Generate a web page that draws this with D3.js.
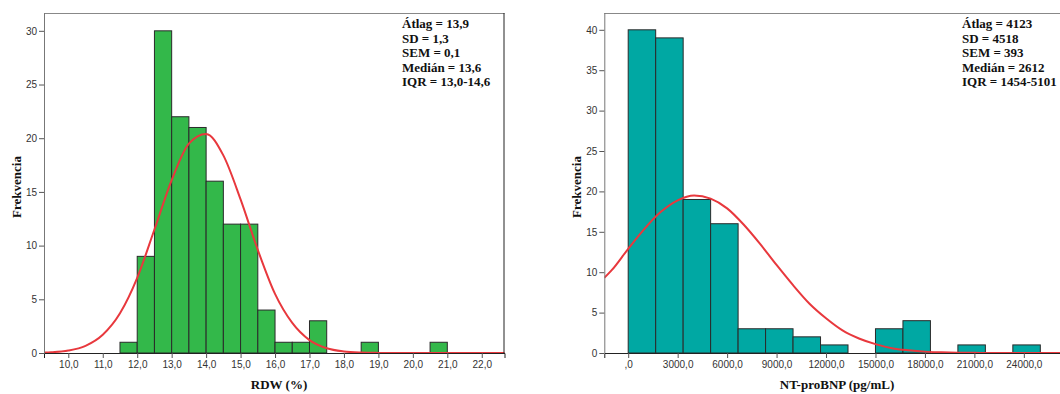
<!DOCTYPE html>
<html>
<head>
<meta charset="utf-8">
<script src="https://cdn.jsdelivr.net/npm/d3@7"></script>
<style>
  body { margin: 0; background: #fff; }
  .tick text { font-family: "Liberation Sans", Arial, sans-serif; font-size: 10px; fill: #333; }
  .tick line { stroke: #555; }
  .lbl { font-family: "Liberation Serif", "Times New Roman", serif; font-weight: bold; font-size: 13px; fill: #111; }
</style>
</head>
<body>
<svg width="1060" height="394"></svg>
<script>
// RDW histogram data
const rdwBinLo = [11.5, 12.0, 12.5, 13.0, 13.5, 14.0, 14.5, 15.0, 15.5, 16.0, 16.5, 17.0, 18.5, 20.5];
const rdwCounts = [1, 9, 30, 22, 21, 16, 12, 12, 4, 1, 1, 3, 1, 1];
const rdwBinWidth = 0.5;
const rdwTicksX = [10, 11, 12, 13, 14, 15, 16, 17, 18, 19, 20, 21, 22];
const rdwTicksY = [0, 5, 10, 15, 20, 25, 30];
// normal curve
const rdwCurveX = [9.3, 9.5, 10, 10.5, 11, 11.5, 12, 12.5, 13, 13.5, 14, 14.5, 15, 15.5, 16, 16.5, 17, 17.5, 18, 18.5, 19, 19.5, 20, 21, 22, 22.7];
const rdwCurveY = [0.04, 0.07, 0.23, 0.67, 1.7, 3.7, 7.0, 11.5, 16.1, 19.5, 20.4, 18.4, 14.3, 9.6, 5.5, 2.8, 1.2, 0.44, 0.14, 0.04, 0.01, 0, 0, 0, 0, 0];
const rdwStats = ["Átlag = 13,9", "SD = 1,3", "SEM = 0,1", "Medián = 13,6", "IQR = 13,0-14,6"];

// NT-proBNP histogram data
const ntBinLo = [0, 1667, 3333, 5000, 6667, 8333, 10000, 11667, 13333, 15000, 16667, 18333, 20000, 21667, 23333];
const ntCounts = [40, 39, 19, 16, 3, 3, 2, 1, 0, 3, 4, 0, 1, 0, 1];
const ntBinWidth = 1667;
const ntTicksX = [0, 3000, 6000, 9000, 12000, 15000, 18000, 21000, 24000];
const ntTicksY = [0, 5, 10, 15, 20, 25, 30, 35, 40];
const ntCurveX = [-1450, -1000, 0, 1000, 2000, 3000, 4000, 5000, 6000, 7000, 8000, 9000, 10000, 11000, 12000, 13000, 14000, 15000, 16000, 17000, 18000, 19000, 20000, 21000, 22000, 24000, 27000];
const ntCurveY = [9.3, 10.25, 12.9, 15.4, 17.5, 18.9, 19.5, 19.1, 17.9, 15.9, 13.5, 10.9, 8.4, 6.1, 4.3, 2.8, 1.8, 1.1, 0.6, 0.34, 0.17, 0.09, 0.04, 0.02, 0, 0, 0];
const ntStats = ["Átlag = 4123", "SD = 4518", "SEM = 393", "Medián = 2612", "IQR = 1454-5101"];

const svg = d3.select('svg');
const fmt = (v) => {
    let s = d3.format('.1f')(v).replace('.', ',');
    return s.startsWith('0,') ? s.slice(1) : s;
};

const drawHist = (opt) => {
    const x = d3.scaleLinear().domain(opt.xDom).range([opt.left, opt.right]);
    const y = d3.scaleLinear().domain(opt.yDom).range([353, 13]);
    const g = svg.append('g');

    g.append('clipPath').attr('id', opt.id + 'clip')
        .append('rect').attr('x', opt.left).attr('y', 13)
        .attr('width', opt.right - opt.left).attr('height', 340);

    // bars
    g.selectAll('rect.bar').data(opt.lo).enter().append('rect')
        .attr('class', 'bar')
        .attr('x', (d) => x(d))
        .attr('width', (d) => x(d + opt.bw) - x(d))
        .attr('y', (d, i) => y(opt.counts[i]))
        .attr('height', (d, i) => y(0) - y(opt.counts[i]))
        .attr('fill', opt.color)
        .attr('stroke', '#2a2a2a')
        .attr('stroke-width', 1)
        .style('display', (d, i) => opt.counts[i] > 0 ? null : 'none');

    // normal curve
    const line = d3.line().x((d) => x(d[0])).y((d) => y(d[1])).curve(d3.curveMonotoneX);
    g.append('path').datum(d3.zip(opt.cx, opt.cy))
        .attr('d', line)
        .attr('fill', 'none')
        .attr('stroke', '#e8383d')
        .attr('stroke-width', 2)
        .attr('clip-path', 'url(#' + opt.id + 'clip)');

    // frame
    g.append('line').attr('x1', opt.left).attr('x2', opt.right).attr('y1', 13.5).attr('y2', 13.5).attr('stroke', '#888');
    g.append('line').attr('x1', opt.left + 0.5).attr('x2', opt.left + 0.5).attr('y1', 13).attr('y2', 353).attr('stroke', '#777');
    if (opt.right < 1060) {
        g.append('line').attr('x1', opt.right - 0.5).attr('x2', opt.right - 0.5).attr('y1', 13).attr('y2', 353).attr('stroke', '#222');
    }

    // axes
    const xAxis = d3.axisBottom(x).tickValues(opt.ticksX).tickFormat(fmt).tickSize(5).tickPadding(3);
    g.append('g').attr('transform', 'translate(0,353)').call(xAxis)
        .call((a) => a.select('.domain').attr('stroke', '#222'));
    const yAxis = d3.axisLeft(y).tickValues(opt.ticksY).tickFormat(d3.format('d')).tickSize(5).tickPadding(2);
    g.append('g').attr('transform', 'translate(' + opt.left + ',0)').call(yAxis)
        .call((a) => a.select('.domain').remove());

    // labels
    g.append('text').attr('class', 'lbl')
        .attr('transform', 'translate(' + opt.yLblX + ',187) rotate(-90)')
        .attr('text-anchor', 'middle').text('Frekvencia');
    g.append('text').attr('class', 'lbl')
        .attr('x', opt.xLblX).attr('y', 389)
        .attr('text-anchor', 'middle').text(opt.xLabel);

    g.selectAll('text.stat').data(opt.stats).enter().append('text')
        .attr('class', 'lbl stat')
        .attr('x', opt.statX)
        .attr('y', (d, i) => 28 + i * 14.6)
        .text((d) => d);
};

drawHist({
    id: 'rdw', left: 44, right: 504.5, xDom: [9.2946, 22.66], yDom: [0, 31.66],
    lo: rdwBinLo, counts: rdwCounts, bw: rdwBinWidth, color: '#33b84a',
    cx: rdwCurveX, cy: rdwCurveY, ticksX: rdwTicksX, ticksY: rdwTicksY,
    yLblX: 21, xLblX: 279, xLabel: 'RDW (%)', stats: rdwStats, statX: 402
});

drawHist({
    id: 'nt', left: 604.3, right: 1075, xDom: [-1450, 27104], yDom: [0, 42.08],
    lo: ntBinLo, counts: ntCounts, bw: ntBinWidth, color: '#00a8a3',
    cx: ntCurveX, cy: ntCurveY, ticksX: ntTicksX, ticksY: ntTicksY,
    yLblX: 581, xLblX: 837, xLabel: 'NT-proBNP (pg/mL)', stats: ntStats, statX: 962
});
</script>
</body>
</html>
